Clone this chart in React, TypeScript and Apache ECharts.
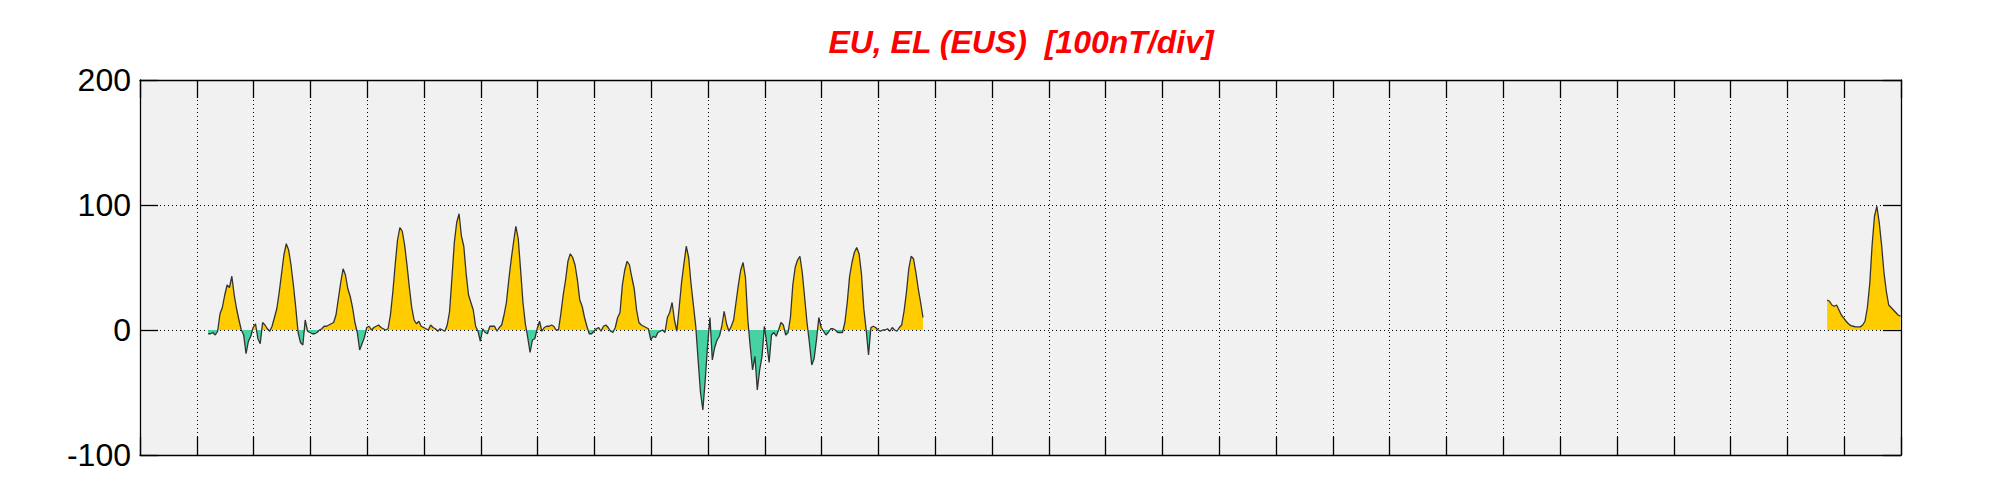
import React, { useEffect, useRef } from 'react';
import * as echarts from 'echarts';

const titleText = 'EU, EL (EUS)  [100nT/div]';
const dayCount = 31;
const yMin = -100;
const yMax = 200;
const yStep = 100;

// Segment A: hourly values (nT) starting at day 1.2 of the axis
const segAStartDay = 1.2;
const segAStepHours = 1;
const segAValues = [
  -3, -3, -2, -4, -1, 13, 18, 28, 36, 34, 43, 28, 17, 8, 0, -4, -19, -9, -5, 2, 5, -7, -11, 6, 4,
  1, -1, 3, 10, 17, 30, 45, 60, 69, 64, 52, 36, 18, -2, -10, -12, 8, -1, -2, -3, -3, -2, 0, 1, 3,
  3, 4, 5, 6, 12, 25, 38, 49, 44, 33, 27, 18, 6, -2, -16, -11, -6, 2, 3, 0, 2, 3, 4,
  2, 1, 0, 1, 12, 30, 52, 72, 82, 79, 68, 52, 34, 18, 8, 5, 7, 3, 2, 1, 0, 4, 2, 1, -1,
  1, 0, -1, 4, 15, 42, 70, 86, 93, 75, 67, 45, 28, 22, 16, 3, -1, -9, 1, -2, -3, 3, 3, 3, -1,
  2, 4, 12, 22, 40, 56, 70, 83, 73, 48, 22, 5, -6, -18, -8, -7, 1, 7, -1, 2, 3,
  3, 4, 3, 0, 0, 13, 28, 40, 55, 61, 58, 52, 40, 24, 19, 10, 3, -3, -3, -1, 1, 2, -1, 3, 4,
  2, -1, -2, 2, 10, 14, 36, 48, 55, 52, 42, 33, 16, 6, 4, 3, 2, 1, -8, -5, -6, -2, -1, 0, -2,
  10, 14, 22, 8, -1, 18, 38, 53, 67, 58, 37, 20, 3, -24, -50, -64, -40, -12, 10, -24, -14, -8, -5,
  3, 15, 5, -1, 3, 8, 22, 36, 48, 54, 42, 8, -13, -32, -21, -48, -32, -21, 3, -11, -26, -4, -2, -5, 0,
  6, 4, -4, -2, 10, 36, 50, 56, 59, 46, 26, 6, -10, -28, -23, -8, 10, 2, -1, -4, -2, 1, 1, 0, -2,
  -2, -2, 6, 22, 43, 54, 62, 66, 61, 45, 17, 0, -20, 2, 3, 2, 0, -1, 0, 0, 1,
  -1, 2, 0, -1, 2, 4, 15, 30, 49, 59, 57, 46, 33, 22, 10,
];

// Segment B: hourly values (nT) starting at day 29.7 of the axis
const segBStartDay = 29.7;
const segBStepHours = 1;
const segBValues = [
  24, 23, 20, 19, 20, 16, 12, 9.5, 7, 5, 3.5, 3, 2.5, 2.5, 2.5, 4, 7, 18, 37, 68, 91, 99, 86, 68,
  46, 31, 20, 18, 16, 14, 12, 11,
];

const toPairs = (start: number, stepH: number, vals: number[]) =>
  vals.map((v, i) => [start + (i * stepH) / 24, v]);

const posColor = '#ffcc00';
const negColor = '#45d3a3';
const traceColor = '#333333';

const gridLeft = 140;
const gridTop = 80;
const gridWidth = 1761;
const gridHeight = 375;

export default function App() {
  const ref = useRef<HTMLDivElement>(null);

  useEffect(() => {
    document.body.style.margin = '0';
    if (!ref.current) return;
    const chart = echarts.init(ref.current, undefined, { renderer: 'svg' });
    const segA = toPairs(segAStartDay, segAStepHours, segAValues);
    const segB = toPairs(segBStartDay, segBStepHours, segBValues);

    // pixel row of the zero line, used for a sign-split fill
    const zeroY = gridTop + (gridHeight * (yMax - 0)) / (yMax - yMin);
    const fill = new echarts.graphic.LinearGradient(
      0,
      gridTop,
      0,
      gridTop + gridHeight,
      [
        { offset: 0, color: posColor },
        { offset: (zeroY - gridTop) / gridHeight, color: posColor },
        { offset: (zeroY - gridTop) / gridHeight, color: negColor },
        { offset: 1, color: negColor },
      ],
      true
    );

    const axisLine = { show: true, onZero: false, lineStyle: { color: '#000', width: 1.3 } };
    const tick = { show: true, inside: true, length: 18, lineStyle: { color: '#000', width: 1.3 } };
    const dotted = { show: true, lineStyle: { color: '#000', width: 1, type: [1, 3] as any } };

    const stripes = {
      symbol: 'rect',
      symbolSize: 1,
      color: 'rgba(255,255,255,0.85)',
      dashArrayX: [1, 5],
      dashArrayY: [6, 0],
      rotation: 0,
    };

    const areaSeries = (data: number[][]) => ({
      type: 'line',
      data,
      xAxisIndex: 0,
      yAxisIndex: 0,
      symbol: 'none',
      lineStyle: { width: 0, opacity: 0, decal: stripes },
      areaStyle: { opacity: 1, color: fill },
      silent: true,
      z: 2,
    });
    const traceSeries = (data: number[][]) => ({
      type: 'line',
      data,
      xAxisIndex: 0,
      yAxisIndex: 0,
      symbol: 'none',
      lineStyle: { width: 1.3, color: traceColor },
      itemStyle: { color: traceColor },
      silent: true,
      z: 3,
    });

    chart.setOption({
      animation: false,
      backgroundColor: '#ffffff',
      grid: {
        left: gridLeft,
        top: gridTop,
        width: gridWidth,
        height: gridHeight,
        show: true,
        backgroundColor: '#f1f1f1',
        borderWidth: 0,
      },
      xAxis: [
        {
          type: 'value',
          position: 'bottom',
          min: 0,
          max: dayCount,
          interval: 1,
          axisLine,
          axisTick: tick,
          axisLabel: { show: false },
          splitLine: dotted,
        },
        {
          type: 'value',
          position: 'top',
          min: 0,
          max: dayCount,
          interval: 1,
          axisLine,
          axisTick: tick,
          axisLabel: { show: false },
          splitLine: { show: false },
        },
      ],
      yAxis: [
        {
          type: 'value',
          position: 'left',
          min: yMin,
          max: yMax,
          interval: yStep,
          axisLine,
          axisTick: tick,
          axisLabel: {
            show: true,
            fontSize: 32,
            fontFamily: '"Liberation Sans", Arial, sans-serif',
            color: '#000',
            margin: 9,
          },
          splitLine: dotted,
        },
        {
          type: 'value',
          position: 'right',
          min: yMin,
          max: yMax,
          interval: yStep,
          axisLine,
          axisTick: tick,
          axisLabel: { show: false },
          splitLine: { show: false },
        },
      ],
      graphic: [
        {
          type: 'text',
          x: 1021,
          y: 42,
          style: {
            text: titleText,
            fill: '#ff0000',
            font: 'italic bold 32px "Liberation Sans", Arial, sans-serif',
            textAlign: 'center',
            textVerticalAlign: 'middle',
          },
        },
      ],
      series: [areaSeries(segA), traceSeries(segA), areaSeries(segB), traceSeries(segB)],
    } as any);

    return () => chart.dispose();
  }, []);

  return <div ref={ref} style={{ width: 2001, height: 500 }} />;
}
